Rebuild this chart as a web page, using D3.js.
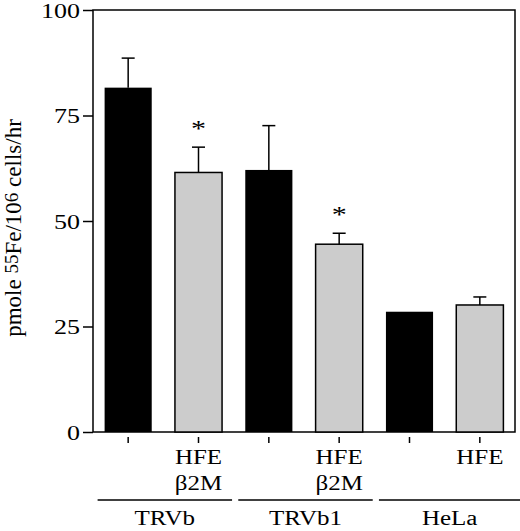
<!DOCTYPE html>
<html><head><meta charset="utf-8">
<script src="https://cdn.jsdelivr.net/npm/d3@7"></script>
<style>body{margin:0;background:#fff}text{font-family:"Liberation Serif","DejaVu Serif",serif;fill:#000}</style>
</head><body>
<svg id="c" width="520" height="531"></svg>
<script>
const categories = ["TRVb-ctrl","TRVb-HFE","TRVb1-ctrl","TRVb1-HFE","HeLa-ctrl","HeLa-HFE"];
const values = [81.6, 61.5, 62.1, 44.5, 28.5, 30.1];
const errors = [7.0, 6.0, 10.5, 2.6, 0, 1.9];
const fills = ["black","gray","black","gray","black","gray"];
const signif = [false, true, false, true, false, false];
const catLabels = [[], ["HFE","β2M"], [], ["HFE","β2M"], [], ["HFE"]];
const groups = [{name:"TRVb", from:0, to:1},{name:"TRVb1", from:2, to:3},{name:"HeLa", from:4, to:5}];
const yTicks = [0, 25, 50, 75, 100];

const SX = 1.25;
const svg = d3.select("#c");
const L = 93, R = 515, T = 10, B = 432;
const x = d3.scaleBand().domain(categories).range([L, R]).paddingInner(0.33).paddingOuter(0.165);
const y = d3.scaleLinear().domain([0, 100]).range([B, T]);

function label(px, py, str, size) {
  return svg.append("text").attr("transform", `translate(${px},${py}) scale(${SX},1)`)
    .attr("text-anchor", "middle").style("font-size", size + "px").text(str);
}

// frame
svg.append("rect").attr("x", L).attr("y", T).attr("width", R - L).attr("height", B - T)
  .attr("fill", "none").attr("stroke", "#000").attr("stroke-width", 1.5);

// y axis
const yAxis = svg.append("g").attr("transform", `translate(${L},0)`)
  .call(d3.axisLeft(y).tickValues(yTicks).tickSize(10).tickPadding(3).tickFormat(d3.format("d")));
yAxis.select(".domain").remove();
yAxis.selectAll(".tick line").attr("stroke-width", 1.5);
yAxis.selectAll(".tick text").style("font-size", "20px").style("font-family", '"Liberation Serif",serif')
  .attr("x", -13 / 1.3).attr("transform", `scale(1.3,1)`).attr("dy", "0.35em");

// bars
svg.selectAll("rect.bar").data(categories).join("rect").attr("class", "bar")
  .attr("x", d => x(d)).attr("width", x.bandwidth())
  .attr("y", (d, i) => y(values[i])).attr("height", (d, i) => B - y(values[i]))
  .attr("fill", (d, i) => fills[i] === "black" ? "#000" : "#cccccc")
  .attr("stroke", "#000").attr("stroke-width", (d, i) => fills[i] === "black" ? 0 : 1.5);

// error bars (upper only)
categories.forEach((c, i) => {
  if (errors[i] <= 0) return;
  const cx = x(c) + x.bandwidth() / 2;
  const y0 = y(values[i]), y1 = y(values[i] + errors[i]);
  svg.append("line").attr("x1", cx).attr("x2", cx).attr("y1", y0).attr("y2", y1).attr("stroke", "#000").attr("stroke-width", 1.5);
  svg.append("line").attr("x1", cx - 6.5).attr("x2", cx + 6.5).attr("y1", y1).attr("y2", y1).attr("stroke", "#000").attr("stroke-width", 1.5);
  if (signif[i]) label(cx, y1 - 11, "*", 24);
});

// x ticks and labels
categories.forEach((c, i) => {
  const cx = x(c) + x.bandwidth() / 2;
  svg.append("line").attr("x1", cx).attr("x2", cx).attr("y1", 437).attr("y2", 443).attr("stroke", "#000").attr("stroke-width", 1.5);
  catLabels[i].forEach((t, j) => label(cx, 464 + j * 26, t, 20));
});

// group lines
groups.forEach((g, k) => {
  const x0 = x(categories[g.from]) - 7;
  const x1 = x(categories[g.to]) + x.bandwidth() + (k === 2 ? 17 : 10);
  svg.append("line").attr("x1", x0).attr("x2", x1).attr("y1", 500).attr("y2", 500).attr("stroke", "#000").attr("stroke-width", 1.5);
  label((x0 + x1) / 2, 525, g.name, 20);
});

// y label
const yl = svg.append("text").attr("transform", "translate(21,228) rotate(-90)").attr("text-anchor", "middle")
  .style("font-size", "23px");
yl.append("tspan").text("pmole ");
yl.append("tspan").attr("dy", -3).style("font-size", "19px").text("55");
yl.append("tspan").attr("dy", 3).text("Fe/10");
yl.append("tspan").attr("dy", -3).style("font-size", "19px").text("6");
yl.append("tspan").attr("dy", 3).text(" cells/hr");
</script>
</body></html>
